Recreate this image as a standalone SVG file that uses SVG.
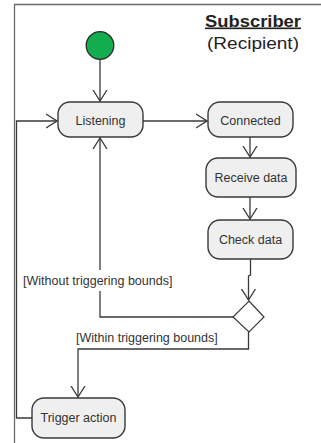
<svg xmlns="http://www.w3.org/2000/svg" width="321" height="443" viewBox="0 0 321 443">
<defs>
<style>
.node{fill:#efefef;stroke:#3a3a3a;stroke-width:1.4}
.lbl{font-family:"Liberation Sans",Arial,sans-serif;font-size:12.5px;fill:#333;text-anchor:middle}
.guard{font-family:"Liberation Sans",Arial,sans-serif;font-size:12.5px;fill:#333}
.edge{fill:none;stroke:#3a3a3a;stroke-width:1.3}
.frame{fill:none;stroke:#6a6a6a;stroke-width:1.3}
</style>
<marker id="arr" viewBox="0 0 12 16" refX="11" refY="8" markerWidth="12" markerHeight="16" markerUnits="userSpaceOnUse" orient="auto">
<path d="M0,1 L11,8 L0,15" fill="none" stroke="#3a3a3a" stroke-width="1.3"/>
</marker>
</defs>
<rect width="321" height="443" fill="#fff"/>
<path class="frame" d="M14.5,443 V4.5 H321"/>
<g id="title">
<text x="253" y="26.5" font-family="'Liberation Sans',Arial,sans-serif" font-size="16.5" font-weight="bold" fill="#222" text-anchor="middle" text-decoration="underline" textLength="96" lengthAdjust="spacingAndGlyphs">Subscriber</text>
<text x="253" y="49" font-family="'Liberation Sans',Arial,sans-serif" font-size="16.5" fill="#222" text-anchor="middle" textLength="92" lengthAdjust="spacingAndGlyphs">(Recipient)</text>
</g>
<g id="connectors">
<path class="edge" d="M100,59.5 V101" marker-end="url(#arr)"/>
<path class="edge" d="M143,121 H207" marker-end="url(#arr)"/>
<path class="edge" d="M250,137 V157" marker-end="url(#arr)"/>
<path class="edge" d="M250,197 V219" marker-end="url(#arr)"/>
<path class="edge" d="M250.5,259 V275 L248.5,276 V300" marker-end="url(#arr)"/>
<path class="edge" d="M233,317 H100 V138" marker-end="url(#arr)"/>
<path class="edge" d="M248.5,332 V349 H78 V397" marker-end="url(#arr)"/>
<path class="edge" d="M32,418 H16.5 V121 H57" marker-end="url(#arr)"/>
<rect x="22" y="270" width="153" height="21" fill="#fff"/>
<text class="guard" x="23" y="285">[Without triggering bounds]</text>
<text class="guard" x="76" y="342">[Within triggering bounds]</text>
</g>
<g id="start"><circle cx="100" cy="45.5" r="13.8" fill="#12ad4f" stroke="#2a2a2a" stroke-width="1.3"/></g>
<g id="listening"><rect class="node" x="58" y="102" width="85" height="35" rx="12"/><text class="lbl" x="100.5" y="125">Listening</text></g>
<g id="connected"><rect class="node" x="208" y="102" width="85" height="35" rx="12"/><text class="lbl" x="250.5" y="125">Connected</text></g>
<g id="receive"><rect class="node" x="206" y="158" width="90" height="39" rx="12"/><text class="lbl" x="251" y="182">Receive data</text></g>
<g id="check"><rect class="node" x="208" y="220" width="85" height="39" rx="12"/><text class="lbl" x="250.5" y="243.5">Check data</text></g>
<g id="decision"><path d="M249,301 L264,317 L249,332 L233,317 Z" fill="#fff" stroke="#3a3a3a" stroke-width="1.2"/></g>
<g id="trigger"><rect class="node" x="32" y="398" width="93" height="40" rx="12"/><text class="lbl" x="78.5" y="422">Trigger action</text></g>
</svg>
